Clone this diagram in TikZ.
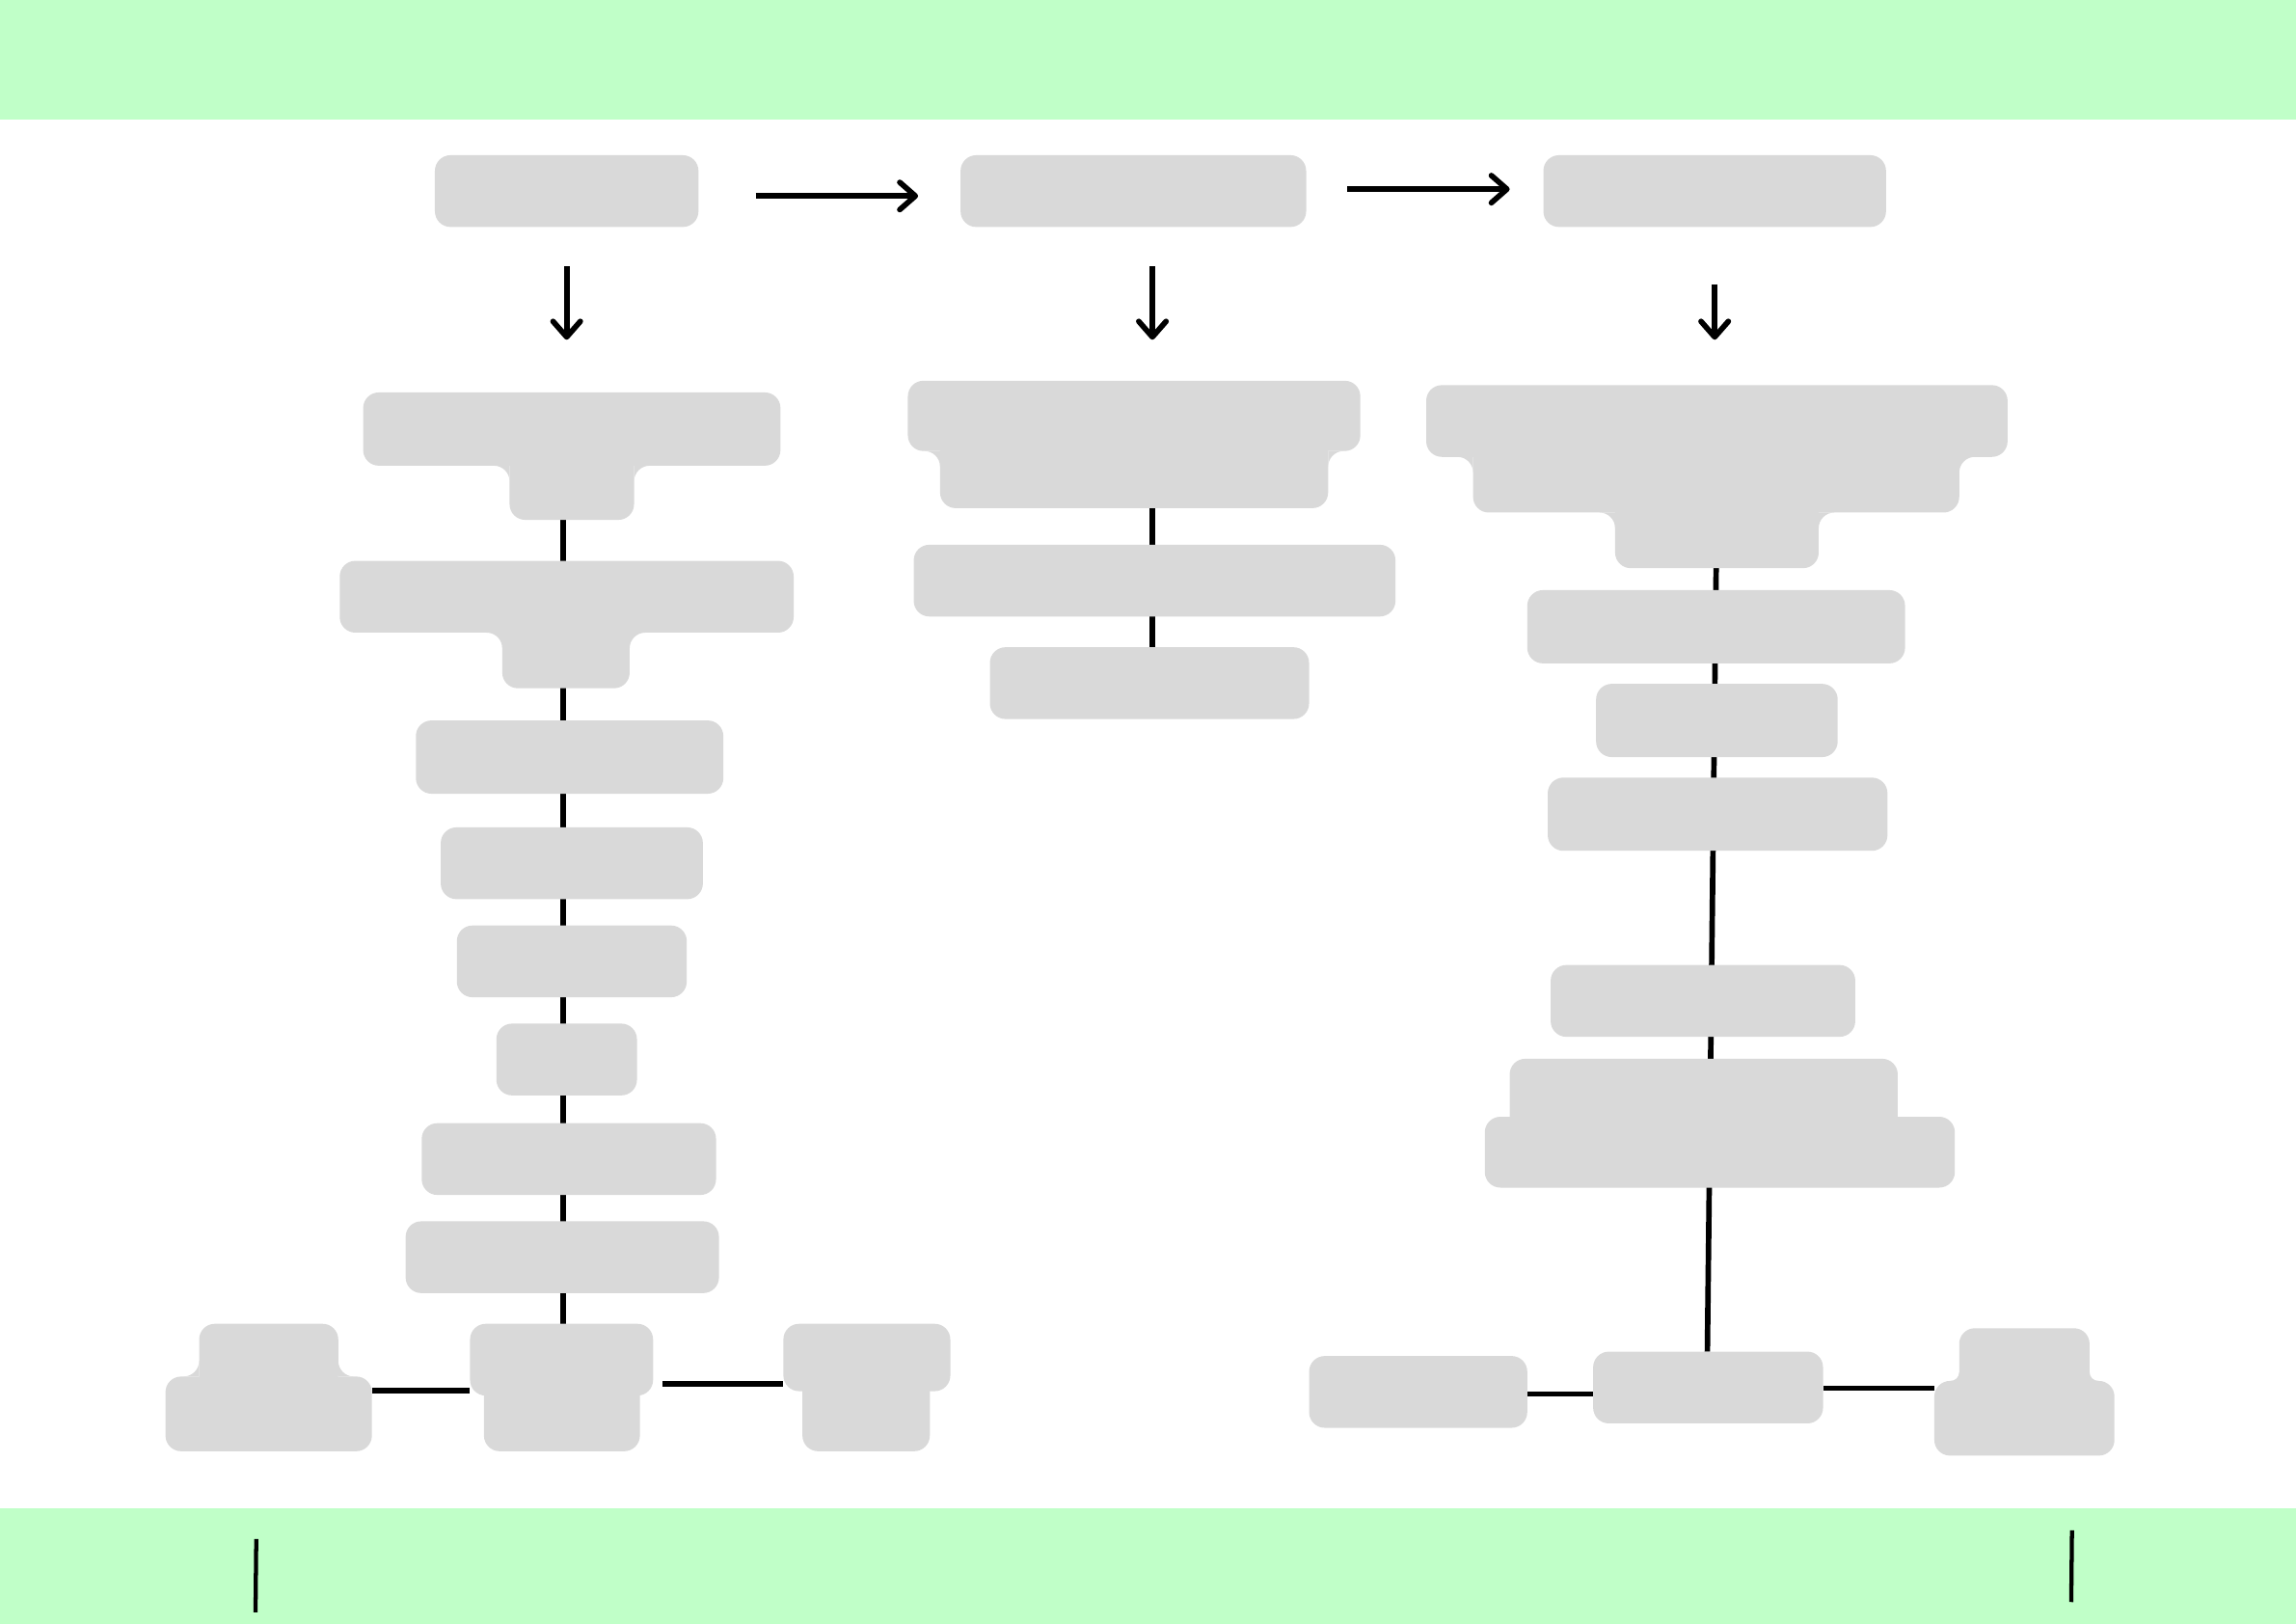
\documentclass[tikz,border=0pt]{standalone}
\usepackage{xcolor}
\usepackage{tikz}
\usetikzlibrary{arrows.meta,positioning,fit,backgrounds}
\definecolor{BandGreen}{HTML}{C0FFC8}
\definecolor{BoxGray}{HTML}{D9D9D9}
% inner corner where two boxes meet: [radius]{x}{y}{sx}{sy}
\newcommand{\cornerfill}[5][10.7]{%
  \fill[BoxGray] ({#2+#4*#1},#3) -- (#2,#3) -- (#2,{#3+#5*#1})
    .. controls (#2,{#3+#5*0.448*#1}) and ({#2+#4*0.448*#1},#3) .. ({#2+#4*#1},#3) -- cycle;}
\begin{document}
\begin{tikzpicture}[x=0.015cm, y=-0.015cm,
  band/.style={fill=BandGreen},
  blk/.style={fill=BoxGray, rounded corners=0.16cm, inner sep=0pt, outer sep=0pt},
  link/.style={black, line width=1.6pt},
  flow/.style={black, line width=1.6pt, -{Straight Barb[length=1.6mm, width=2.8mm, round]}},
  tickline/.style={black, line width=1.2pt}]
\useasboundingbox (0,0) rectangle (1568,1109);

% bands
\fill[band] (0,0) rectangle (1568,81.7);
\fill[band] (0,1030) rectangle (1568,1109);

% spines
\coordinate (lspine) at (384.5,0);
\coordinate (mspine) at (787,0);
\coordinate (rtop) at (1172,0);
\coordinate (rbot) at (1166,0);
\coordinate (lrow1) at (0,949.5);
\coordinate (lrow2) at (0,945);
\coordinate (rrow1) at (0,952);
\coordinate (rrow2) at (0,948);

% top row
\node[blk, fit={(297,106) (477,155)}] (a) {};
\node[blk, fit={(656,106) (892,155)}] (b) {};
\node[blk, fit={(1054,106) (1288,155)}] (c) {};

% left column
\node[blk, fit={(248,268) (533,318)}] (l1) {};
\node[blk, fit={(348,300) (433,355)}] (l1s) {};
\node[blk, fit={(232,383) (542,432)}] (l2) {};
\node[blk, fit={(343,415) (430,470)}] (l2s) {};
\node[blk, fit={(284,492) (494,542)}] (l3) {};
\node[blk, fit={(301,565) (480,614)}] (l4) {};
\node[blk, fit={(312,632) (469,681)}] (l5) {};
\node[blk, fit={(339,699) (435,748)}] (l6) {};
\node[blk, fit={(288,767) (489,816)}] (l7) {};
\node[blk, fit={(277,834) (491,883)}] (l8) {};
\node[blk, fit={(136,904) (231,950)}] (lb1) {};
\node[blk, fit={(113,940) (254,991)}] (lb1b) {};
\node[blk, fit={(321,904) (446,953)}] (lb2) {};
\node[blk, fit={(330.5,935) (437,991)}] (lb2b) {};
\node[blk, fit={(535,904) (649,950)}] (lb3) {};
\node[blk, fit={(548,935) (635,991)}] (lb3b) {};
\cornerfill{348}{318}{-1}{1}
\cornerfill{433}{318}{1}{1}
\cornerfill{343}{432}{-1}{1}
\cornerfill{430}{432}{1}{1}
\cornerfill{136}{940}{-1}{-1}
\cornerfill{231}{940}{1}{-1}

% middle column
\node[blk, fit={(620,260) (929,308)}] (m1) {};
\node[blk, fit={(642,290) (907,347)}] (m1s) {};
\node[blk, fit={(624,372) (953,421)}] (m2) {};
\node[blk, fit={(676,442) (894,491)}] (m3) {};
\cornerfill{642}{308}{-1}{1}
\cornerfill{907}{308}{1}{1}

% right column
\node[blk, fit={(974,263) (1371,312)}] (r1) {};
\node[blk, fit={(1006,295) (1338,350)}] (r1s) {};
\node[blk, fit={(1103,335) (1242,388)}] (r1t) {};
\node[blk, fit={(1043,403) (1301,453)}] (r2) {};
\node[blk, fit={(1090,467) (1255,517)}] (r3) {};
\node[blk, fit={(1057,531) (1289,581)}] (r4) {};
\node[blk, fit={(1059,659) (1267,708)}] (r5) {};
\node[blk, fit={(1031,723) (1296,775)}] (r6) {};
\node[blk, fit={(1014,762.6) (1335,811)}] (r6b) {};
\node[blk, fit={(894,926) (1043,975)}] (rb1) {};
\node[blk, fit={(1088,923) (1245,972)}] (rb2) {};
\node[blk, fit={(1338,907) (1427,955)}] (rb3) {};
\node[blk, fit={(1321,943) (1444,994)}] (rb3b) {};
\cornerfill{1006}{312}{-1}{1}
\cornerfill{1338}{312}{1}{1}
\cornerfill{1103}{350}{-1}{1}
\cornerfill{1242}{350}{1}{1}
\cornerfill[6]{1338}{943}{-1}{-1}
\cornerfill[6]{1427}{943}{1}{-1}

% connectors behind the boxes
\begin{scope}[on background layer]
  \draw[link] (l1s.south -| lspine) -- (lb2.north -| lspine);
  \draw[link] (lb1b.east |- lrow1) -- (lb2.west |- lrow1);
  \draw[link, shorten <=0.1cm] (lb2.east |- lrow2) -- (lb3.west |- lrow2);
  \draw[link] (m1s.south -| mspine) -- (m3.north -| mspine);
  \draw[link] (r1t.south -| rtop) -- (rb2.north -| rbot);
  \draw[link] (rb1.east |- rrow1) -- (rb2.west |- rrow1);
  \draw[link] (rb2.east |- rrow2) -- (rb3b.west |- rrow2);
\end{scope}

% arrows
\draw[flow, shorten <=0.585cm, shorten >=0.435cm] ([yshift=-0.05cm]a.east) -- ([yshift=-0.05cm]b.west);
\draw[flow, shorten <=0.42cm, shorten >=0.345cm] ([yshift=0.02cm]b.east) -- ([yshift=0.02cm]c.west);
\draw[flow, shorten <=0.405cm, shorten >=0.54cm] (a.south) -- (a.south |- l1.north);
\draw[flow, shorten <=0.405cm, shorten >=0.42cm] (b.south -| mspine) -- (m1.north -| mspine);
\draw[flow, shorten <=0.585cm, shorten >=0.465cm] (c.south) -- (c.south |- r1.north);

% ticks in the bottom band
\coordinate (tl1) at (175,1051);
\coordinate (tl2) at (174.5,1101);
\coordinate (tr1) at (1415,1045);
\coordinate (tr2) at (1414.5,1094);
\draw[tickline] (tl1) -- (tl2);
\draw[tickline] (tr1) -- (tr2);
\end{tikzpicture}
\end{document}
